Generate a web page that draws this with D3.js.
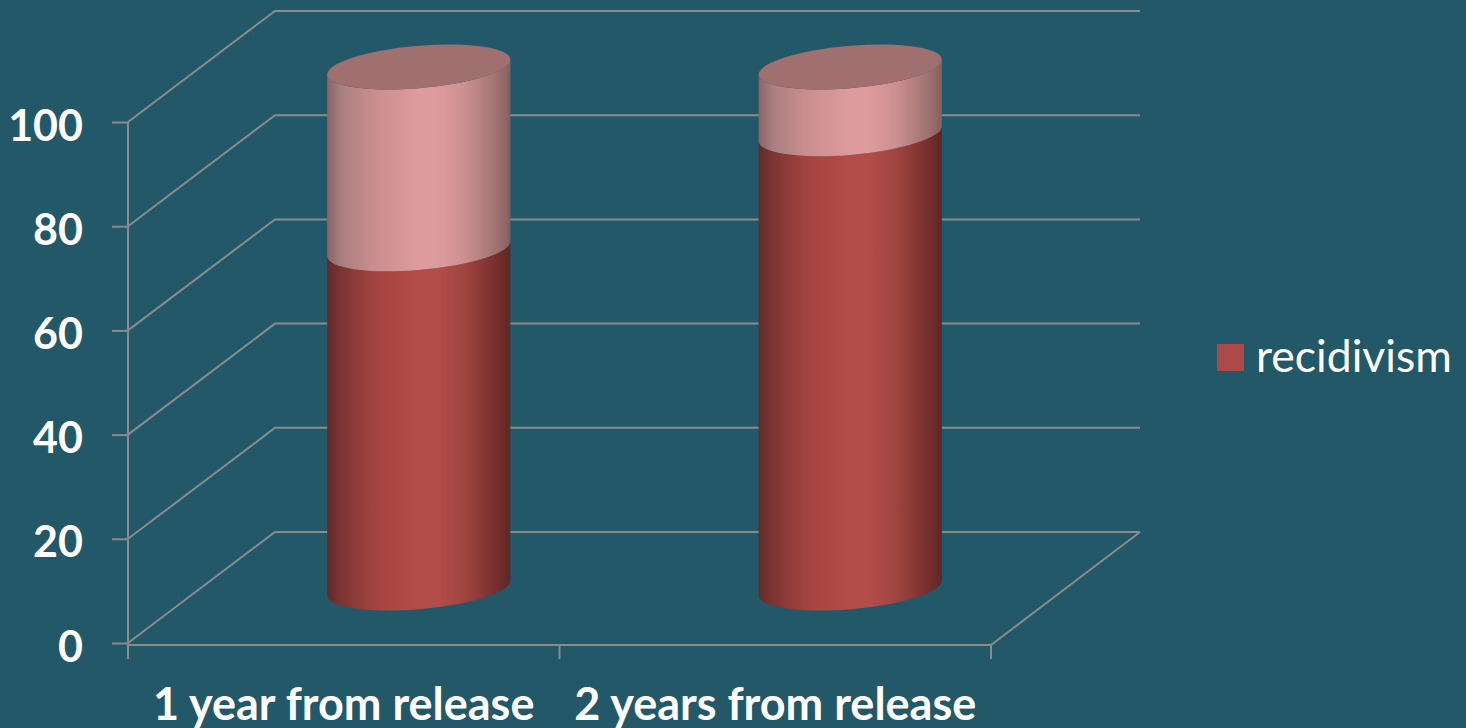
<!DOCTYPE html>
<html><head><meta charset="utf-8">
<script src="https://cdn.jsdelivr.net/npm/d3@7"></script>
<style>html,body{margin:0;padding:0;background:#235869;overflow:hidden}svg{display:block}text{font-family:Lato,"Open Sans",sans-serif}</style>
</head><body><svg id="c" width="1466" height="728"></svg>
<script>
const categories = ["1 year from release", "2 years from release"];
const recidivism = [65.1, 87.2];
const remainder = [34.9, 12.8];
const yTicks = [0, 20, 40, 60, 80, 100];
const seriesName = "recidivism";

const W = 1466, H = 728, grid = "#888c8d", bg = "#235869";
const svg = d3.select("#c");
const defs = svg.append("defs");
const y = d3.scaleLinear().domain([0, 100]).range([643, 122]);
const x = d3.scaleBand().domain(categories).range([128, 991]).paddingInner(0).paddingOuter(0);
const depth = {dx: 147, dy: -111};
svg.append("rect").attr("width", W).attr("height", H).attr("fill", bg);

function grad(id, stops) {
  const g = defs.append("linearGradient").attr("id", id).attr("x1", 0).attr("x2", 1).attr("y1", 0).attr("y2", 0);
  stops.forEach(s => g.append("stop").attr("offset", s[0]).attr("stop-color", s[1]));
}
grad("red", [[0,"#5f2a2a"],[.08,"#7c3532"],[.25,"#a3433f"],[.5,"#b34d49"],[.6,"#b34d49"],[.75,"#a14440"],[.92,"#772f2d"],[1,"#5e2725"]]);
grad("pink", [[0,"#8b6366"],[.08,"#a97f80"],[.25,"#c98d8e"],[.5,"#de9b9d"],[.6,"#de9b9d"],[.75,"#cc9090"],[.92,"#a07373"],[1,"#85605f"]]);

const walls = svg.append("g").attr("fill", "none").attr("stroke", grid).attr("stroke-width", 2);
// Back wall gridlines and side wall diagonals
yTicks.forEach(t => {
  const front = y(t), back = front + depth.dy;
  walls.append("path").attr("d", `M${x.range()[0]},${front}L${x.range()[0] + depth.dx},${back}L${x.range()[1] + depth.dx + 2},${back}`);
});
// Floor front edge and right edge
walls.append("path").attr("d", `M${x.range()[0]},${y(0) + 2}L${x.range()[1]},${y(0) + 2}L${x.range()[1] + depth.dx + 2},${y(0) + depth.dy}`);

// Y axis
const yAxis = svg.append("g").attr("transform", `translate(${x.range()[0]},0)`)
  .call(d3.axisLeft(y).tickValues(yTicks).tickSize(16).tickPadding(29));
yAxis.select(".domain").attr("stroke", grid).attr("stroke-width", 2).attr("d", `M0,${y(100)}V${y(0) + 16}`);
yAxis.selectAll(".tick line").attr("stroke", grid).attr("stroke-width", 2);
yAxis.selectAll("text").attr("font-family", "Lato").attr("font-weight", 700).attr("font-size", 43).attr("fill", "#fff").attr("dy", "0.42em");

// X axis
const xAxis = svg.append("g").attr("transform", `translate(0,${y(0) + 2})`);
const boundaries = [x.range()[0], x(categories[1]), x.range()[1]];
xAxis.selectAll("line").data(boundaries).join("line")
  .attr("x1", d => d).attr("x2", d => d).attr("y1", 0).attr("y2", 14)
  .attr("stroke", grid).attr("stroke-width", 2);
xAxis.selectAll("text").data(categories).join("text")
  .attr("x", d => x(d) + x.bandwidth() / 2)
  .attr("y", 75)
  .attr("text-anchor", "middle")
  .attr("font-weight", 700).attr("font-size", 45).attr("fill", "#fff")
  .text(d => d);

// Cylinders
const a = x.bandwidth() * 0.2123, b = 21.2, k = -0.082;
const midX = depth.dx / 2 + 1.5, midY = depth.dy / 2 + 0.5;
function body(y0, y1) {
  return `M${-a},${y0}L${-a},${y1}A${a},${b} 0 0 0 ${a},${y1}L${a},${y0}A${a},${b} 0 0 1 ${-a},${y0}Z`;
}
const bars = svg.append("g").selectAll("g").data(categories).join("g")
  .attr("transform", d => `matrix(1,${k},0,1,${x(d) + x.bandwidth() / 2 + midX},0)`);
bars.append("path").attr("fill", "url(#red)")
  .attr("d", (d, i) => body(y(recidivism[i]) + midY, y(0) + midY));
bars.append("path").attr("fill", "url(#pink)")
  .attr("d", (d, i) => body(y(recidivism[i] + remainder[i]) + midY, y(recidivism[i]) + midY));
bars.append("ellipse").attr("fill", "#a07071").attr("rx", a).attr("ry", b)
  .attr("cy", (d, i) => y(recidivism[i] + remainder[i]) + midY);

// Legend
const lg = svg.append("g");
lg.append("rect").attr("x", 1217).attr("y", 344).attr("width", 27).attr("height", 27).attr("fill", "#ab4a46");
lg.append("text").attr("x", 1256).attr("y", 372).attr("font-size", 44.5).attr("fill", "#fff").text(seriesName);
</script></body></html>
